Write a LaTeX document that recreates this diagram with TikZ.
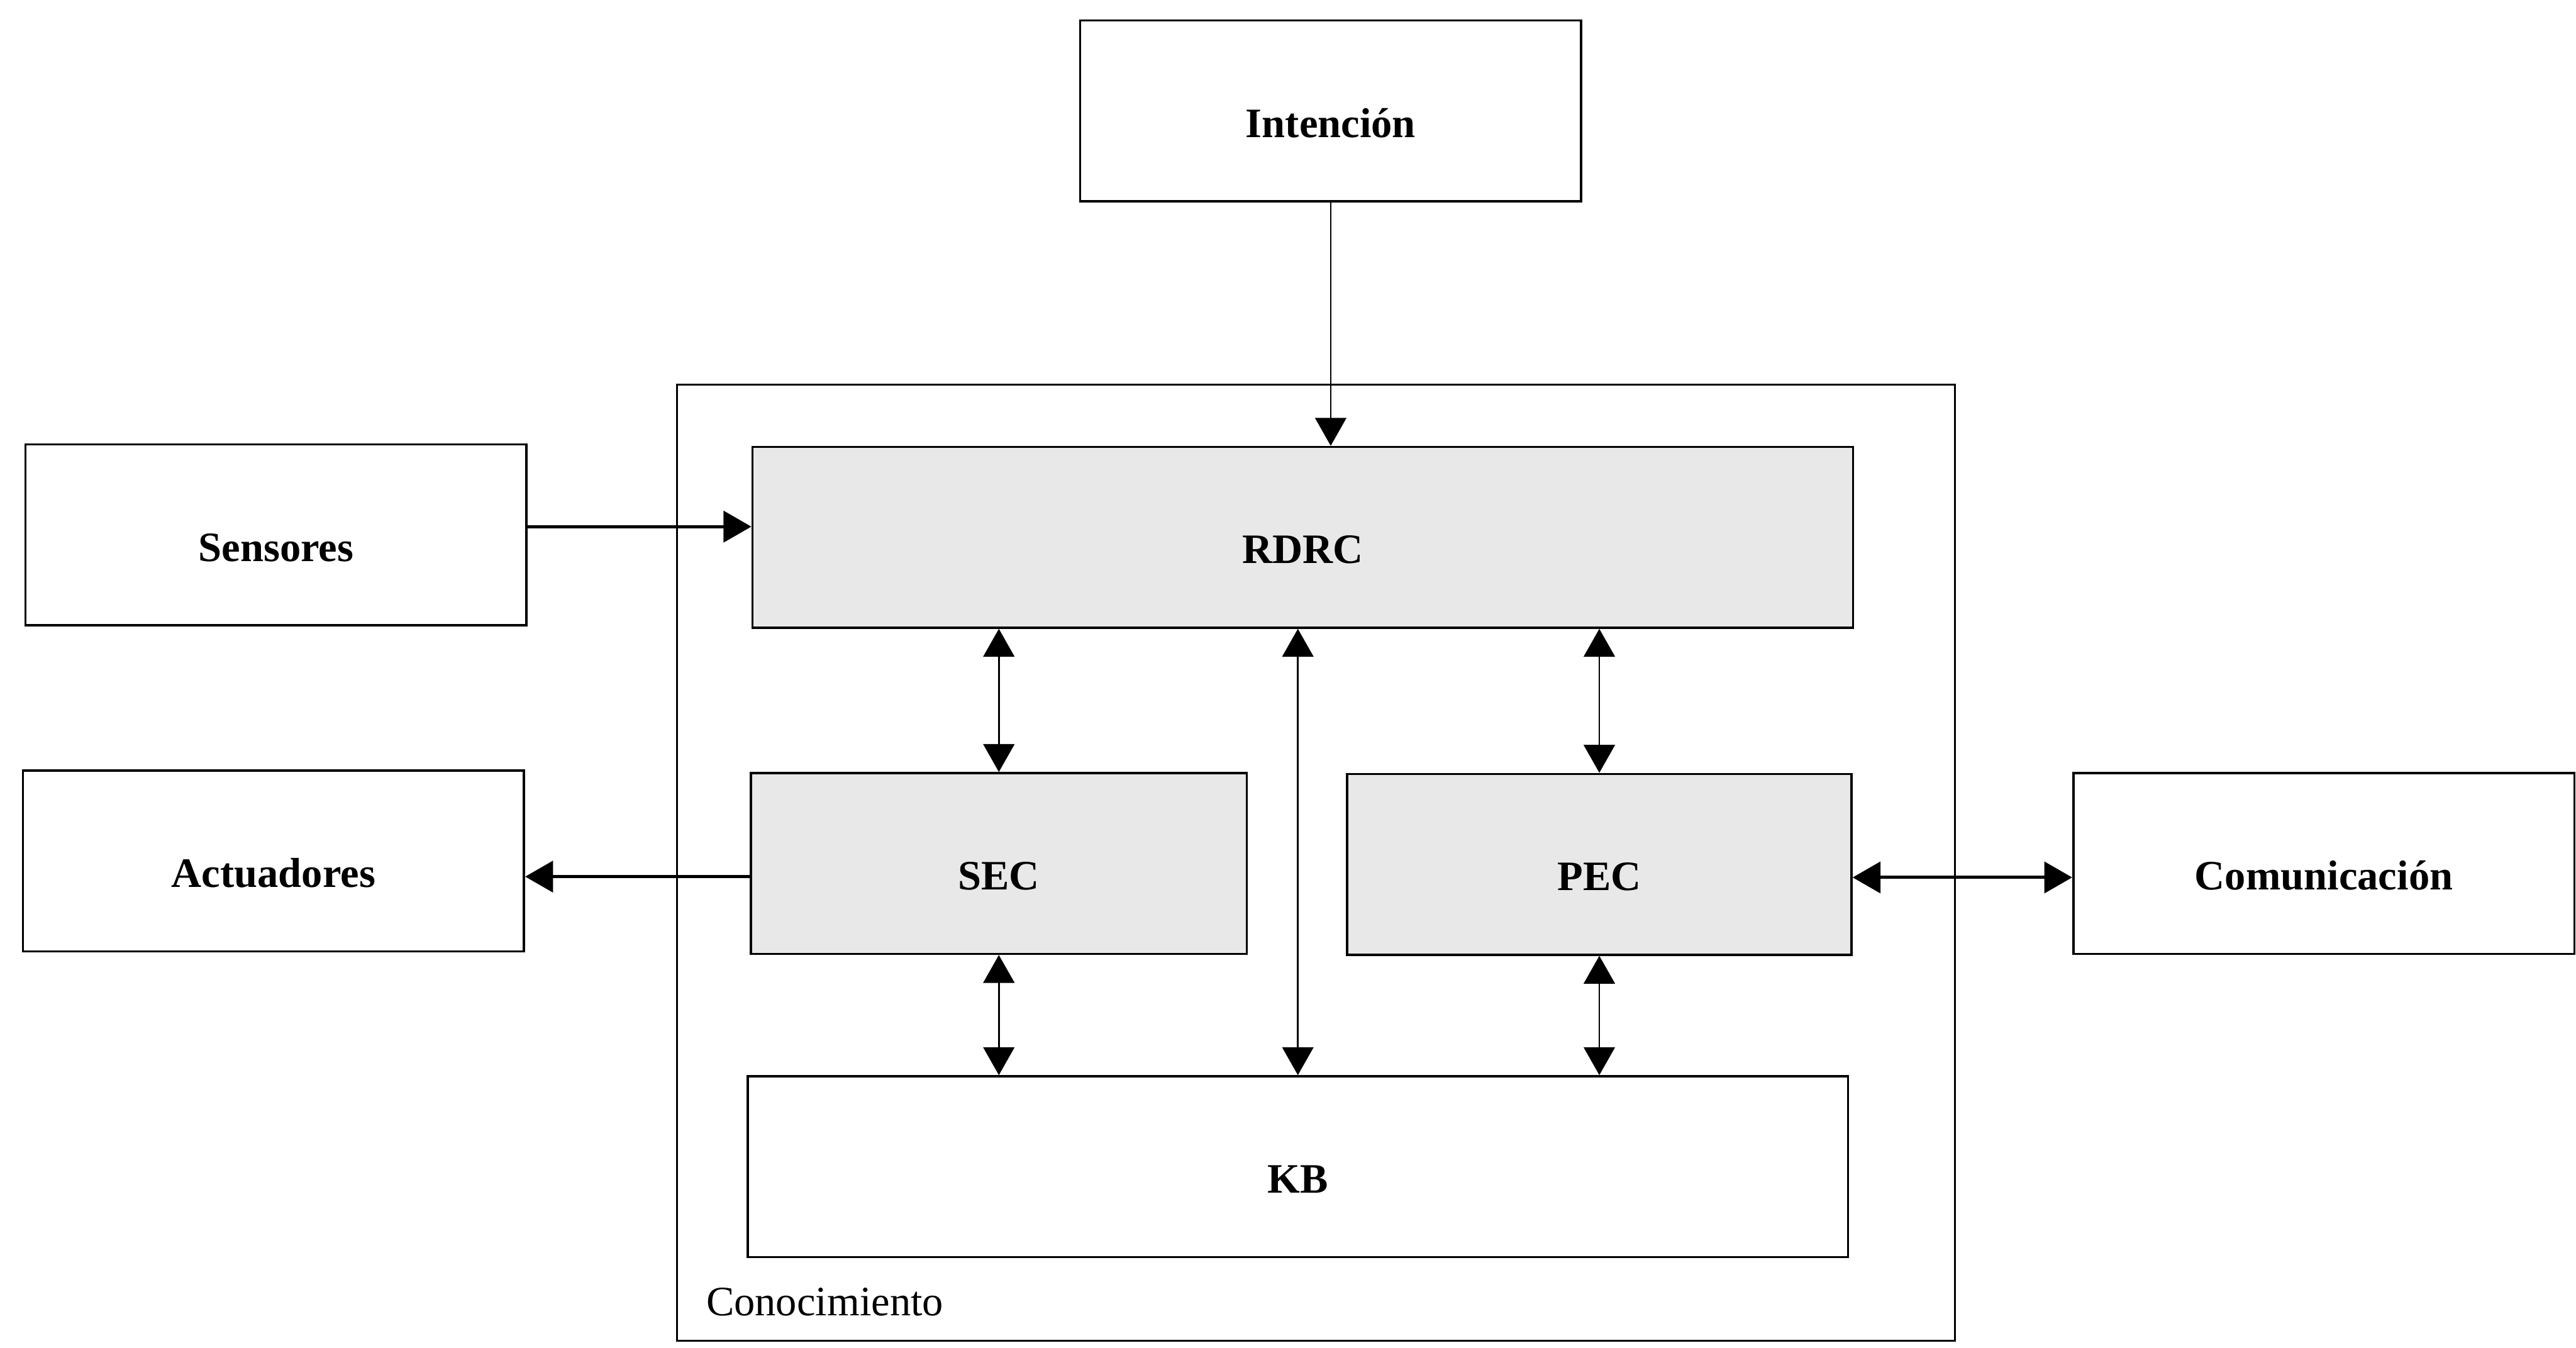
\documentclass[tikz,border=0pt]{standalone}
\usepackage{fontspec}
\setmainfont{Liberation Serif}
\usetikzlibrary{arrows.meta}

\begin{document}
\begin{tikzpicture}[x=0.02cm, y=-0.02cm,
    font=\fontsize{14.5}{17}\selectfont,
    blk/.style={draw, line width=0.8pt, rectangle, minimum width=6.1cm, minimum height=2.2cm,
      inner sep=0pt, text height=0.7cm, text depth=0.06cm, font=\fontsize{14.5}{17}\selectfont\bfseries},
    wideblk/.style={blk, minimum width=13.4cm},
    shade/.style={fill=black!9},
    tip/.style={-{Triangle[length=0.34cm, width=0.38cm]}},
    dbl/.style={{Triangle[length=0.34cm, width=0.38cm]}-{Triangle[length=0.34cm, width=0.38cm]}},
    thin arrow/.style={line width=0.6pt},
    thick arrow/.style={line width=1.1pt}]
    \useasboundingbox (0,0) rectangle (1568,820);

    % frame of the knowledge part
    \node[draw, line width=0.6pt, minimum width=15.56cm, minimum height=11.64cm, inner sep=0pt] (conoc) at (801,525) {};
    \node[anchor=base west, inner sep=0pt] (conoclbl) at ([xshift=0.36cm, yshift=0.32cm]conoc.south west) {Conocimiento};

    % blocks
    \node[blk] (intencion) at (810,67.5) {Intención};
    \node[blk] (sensores) at (168,325.5) {Sensores};
    \node[blk] (actuadores) at (166.5,524) {Actuadores};
    \node[blk] (comunic) at (1414.5,525.5) {Comunicación};
    \node[wideblk, shade] (rdrc) at (793,327) {RDRC};
    \node[blk, shade, minimum width=6.04cm] (sec) at (608,525.5) {SEC};
    \node[blk, shade, minimum width=6.14cm] (pec) at (973.5,526) {PEC};
    \node[wideblk] (kb) at (790,710) {KB};

    % connections
    \draw[tip, thin arrow] (intencion.south) -- (intencion.south |- rdrc.north);
    \draw[tip, thick arrow] ([yshift=0.1cm]sensores.east) -- ([yshift=0.1cm]sensores.east -| rdrc.west);
    \draw[tip, thick arrow] ([yshift=-0.16cm]sec.west) -- ([yshift=-0.16cm]sec.west -| actuadores.east);
    \draw[dbl, thick arrow] ([yshift=-0.16cm]pec.east) -- ([yshift=-0.16cm]pec.east -| comunic.west);
    \draw[dbl, thin arrow] (sec.north) -- (sec.north |- rdrc.south);
    \draw[dbl, thin arrow] (pec.north) -- (pec.north |- rdrc.south);
    \draw[dbl, thin arrow] (kb.north) -- (kb.north |- rdrc.south);
    \draw[dbl, thin arrow] (sec.south) -- (sec.south |- kb.north);
    \draw[dbl, thin arrow] (pec.south) -- (pec.south |- kb.north);
\end{tikzpicture}
\end{document}
